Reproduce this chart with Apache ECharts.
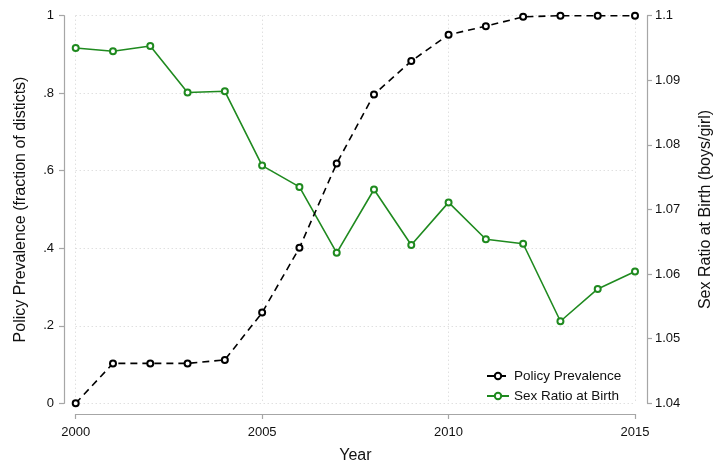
<!DOCTYPE html>
<html>
<head>
<meta charset="utf-8">
<script src="https://cdn.jsdelivr.net/npm/echarts@6/dist/echarts.min.js"></script>
<style>
  html, body { margin: 0; padding: 0; background: #fff; }
  #chart { width: 717px; height: 463px; }
</style>
</head>
<body>
<div id="chart"></div>
<script>
// Years on the horizontal axis
const years = [2000, 2001, 2002, 2003, 2004, 2005, 2006, 2007, 2008, 2009, 2010, 2011, 2012, 2013, 2014, 2015];
// Share of districts with the policy in place
const policyPrevalence = [0, 0.103, 0.103, 0.103, 0.112, 0.234, 0.401, 0.619, 0.797, 0.883, 0.951, 0.973, 0.997, 1.0, 1.0, 1.0];
// Boys per girl at birth
const sexRatio = [1.0950, 1.0945, 1.0953, 1.0881, 1.0883, 1.0768, 1.0735, 1.0633, 1.0731, 1.0645, 1.0711, 1.0654, 1.0647, 1.0527, 1.0577, 1.0604];
// Tick labels
const leftTicks = { 0: '0', 0.2: '.2', 0.4: '.4', 0.6: '.6', 0.8: '.8', 1: '1' };
const rightTicks = ['1.04', '1.05', '1.06', '1.07', '1.08', '1.09', '1.1'];

const FONT = '"Liberation Sans", Arial, Helvetica, sans-serif';
const GREEN = '#1f8a1f';
const AXIS_GRAY = '#a6a6a6';
const GRID_GRAY = '#d2d2d2';

const chart = echarts.init(document.getElementById('chart'), null, { renderer: 'canvas' });

const pair = (vals) => years.map((y, i) => [y, vals[i]]);

chart.setOption({
  animation: false,
  backgroundColor: '#ffffff',
  textStyle: { fontFamily: FONT },
  grid: { left: 75.7, right: 82, top: 15.7, bottom: 59.7, containLabel: false, outerBoundsMode: 'none' },
  xAxis: {
    type: 'value',
    min: 2000, max: 2015, interval: 5,
    offset: 10.7,
    name: 'Year',
    nameLocation: 'middle',
    nameGap: 34,
    nameTextStyle: { fontSize: 16, color: '#111', fontFamily: FONT },
    axisLine: { show: true, onZero: false, lineStyle: { color: AXIS_GRAY, width: 1.2 } },
    axisTick: { show: true, length: 5, lineStyle: { color: AXIS_GRAY, width: 1.2 } },
    axisLabel: { fontSize: 13, color: '#111', margin: 12, fontFamily: FONT, formatter: (v) => String(v) },
    splitLine: { show: true, lineStyle: { color: GRID_GRAY, type: [1, 3], width: 1 } }
  },
  yAxis: [
    {
      type: 'value',
      min: 0, max: 1, interval: 0.2,
      position: 'left',
      offset: 11.7,
      name: 'Policy Prevalence (fraction of disticts)',
      nameLocation: 'middle',
      nameGap: 35,
      nameTextStyle: { fontSize: 16, color: '#111', fontFamily: FONT },
      axisLine: { show: true, onZero: false, lineStyle: { color: AXIS_GRAY, width: 1.2 } },
      axisTick: { show: true, length: 5, lineStyle: { color: AXIS_GRAY, width: 1.2 } },
      axisLabel: {
        fontSize: 13, color: '#111', margin: 10, fontFamily: FONT,
        formatter: (v) => leftTicks[Math.round(v * 10) / 10] ?? ''
      },
      splitLine: { show: true, lineStyle: { color: GRID_GRAY, type: [1, 3], width: 1 } }
    },
    {
      type: 'value',
      min: 1.04, max: 1.1, interval: 0.01,
      position: 'right',
      offset: 12,
      name: 'Sex Ratio at Birth (boys/girl)',
      nameLocation: 'middle',
      nameGap: 51,
      nameRotate: 90,
      nameTextStyle: { fontSize: 16, color: '#111', fontFamily: FONT },
      axisLine: { show: true, onZero: false, lineStyle: { color: AXIS_GRAY, width: 1.2 } },
      axisTick: { show: true, length: 5, lineStyle: { color: AXIS_GRAY, width: 1.2 } },
      axisLabel: {
        fontSize: 13, color: '#111', margin: 8, fontFamily: FONT,
        formatter: (v) => rightTicks[Math.round((v - 1.04) * 100)] ?? ''
      },
      splitLine: { show: false }
    }
  ],
  legend: {
    orient: 'vertical',
    left: 481,
    top: 364,
    itemWidth: 22,
    itemHeight: 8,
    itemGap: 6,
    textStyle: { fontSize: 13.5, color: '#111', fontFamily: FONT },
    data: ['Policy Prevalence', 'Sex Ratio at Birth']
  },
  series: [
    {
      name: 'Policy Prevalence',
      type: 'line',
      yAxisIndex: 0,
      data: pair(policyPrevalence),
      symbol: 'circle',
      symbolSize: 6,
      showAllSymbol: true,
      lineStyle: { color: '#000', width: 1.6, type: [7, 5] },
      itemStyle: { color: '#fff', borderColor: '#000', borderWidth: 2 },
      z: 3
    },
    {
      name: 'Sex Ratio at Birth',
      type: 'line',
      yAxisIndex: 1,
      data: pair(sexRatio),
      symbol: 'circle',
      symbolSize: 6,
      showAllSymbol: true,
      lineStyle: { color: GREEN, width: 1.6 },
      itemStyle: { color: '#fff', borderColor: GREEN, borderWidth: 2 },
      z: 2
    }
  ]
});
</script>
</body>
</html>
